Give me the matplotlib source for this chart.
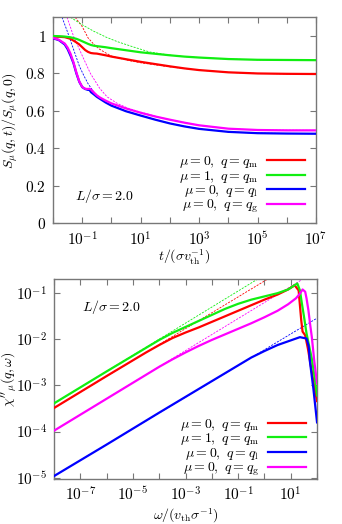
import numpy as np
import matplotlib
matplotlib.use("Agg")
import matplotlib.pyplot as plt
from matplotlib.ticker import FuncFormatter, FixedLocator, NullLocator, NullFormatter

plt.rcParams['font.family'] = 'serif'
plt.rcParams['font.serif'] = ['DejaVu Serif']
plt.rcParams['mathtext.fontset'] = 'cm'
plt.rcParams['font.size'] = 10

# ---- top panel: S_mu(q,t)/S_mu(q,0) vs t (t stored as log10) ----
logt_m = [-2, -1.8, -1.6, -1.4, -1.2, -1.1, -1.0, -0.9, -0.8, -0.7, -0.6, -0.5, -0.4, -0.2,
          0, 0.5, 1, 1.5, 2, 2.5, 3, 4, 5, 6, 7]
s_red = [0.997, 0.996, 0.994, 0.985, 0.966, 0.955, 0.94, 0.925, 0.915, 0.909, 0.907, 0.906,
         0.903, 0.897, 0.89, 0.876, 0.862, 0.85, 0.838, 0.827, 0.818, 0.806, 0.800, 0.798, 0.797]
s_green = [1.0, 0.999, 0.997, 0.993, 0.985, 0.979, 0.972, 0.965, 0.958, 0.952, 0.948, 0.946,
           0.944, 0.94, 0.935, 0.924, 0.913, 0.905, 0.897, 0.89, 0.885, 0.877, 0.873, 0.872, 0.871]

logt_l = [-2, -1.8, -1.6, -1.5, -1.4, -1.3, -1.2, -1.1, -1.0, -0.9, -0.8, -0.75, -0.7, -0.6,
          -0.5, -0.4, -0.2, 0, 0.5, 1, 1.5, 2, 2.5, 3, 4, 5, 6, 7]
s_blue = [0.988, 0.978, 0.955, 0.93, 0.895, 0.855, 0.80, 0.755, 0.727, 0.717, 0.712, 0.712,
          0.700, 0.688, 0.675, 0.665, 0.645, 0.628, 0.598, 0.575, 0.553, 0.533, 0.517, 0.504,
          0.488, 0.481, 0.479, 0.478]
s_mag = [0.99, 0.98, 0.96, 0.938, 0.905, 0.86, 0.805, 0.757, 0.728, 0.718, 0.717, 0.718,
         0.714, 0.698, 0.683, 0.672, 0.655, 0.64, 0.613, 0.59, 0.57, 0.553, 0.537, 0.523,
         0.505, 0.498, 0.496, 0.496]

# thin dashed fits (log10 t, value)
fit_red_t = [-1.24, -1.0, -0.8, -0.6, -0.4, -0.2, 0, 0.5, 1, 2, 3, 4, 5, 6, 7]
fit_red_s = [1.1, 1.05, 0.99, 0.955, 0.929, 0.91, 0.893, 0.872, 0.857, 0.835, 0.818, 0.806, 0.8, 0.798, 0.797]
fit_green_t = [-1.4, -1.0, -0.6, -0.38, -0.2, 0.2, 0.76, 1.3, 1.9, 2.5, 3, 4, 5, 7]
fit_green_s = [1.1, 1.06, 1.025, 1.009, 0.995, 0.97, 0.941, 0.915, 0.9, 0.89, 0.885, 0.877, 0.873, 0.871]
fit_blue_t = [-1.69, -1.5, -1.3, -1.1, -0.95, -0.8, -0.6, -0.4, -0.2, 0, 0.5, 1, 2, 3, 4, 5, 7]
fit_blue_s = [1.1, 1.02, 0.93, 0.84, 0.79, 0.745, 0.70, 0.668, 0.646, 0.628, 0.598, 0.575, 0.533,
              0.504, 0.488, 0.481, 0.478]
fit_mag_t = [-1.52, -1.3, -1.0, -0.72, -0.4, -0.15, 0.2, 0.6, 1.08, 1.5, 2, 3, 4, 5, 7]
fit_mag_s = [1.1, 1.0, 0.895, 0.8, 0.72, 0.675, 0.64, 0.612, 0.59, 0.572, 0.553, 0.523, 0.505, 0.498, 0.496]

# ---- bottom panel: chi''_mu(q,omega) (log10 omega, log10 chi) ----
logw_red = [-8, -6, -4.5, -4, -3.5, -3.0, -2.5, -2.0, -1.5, -1.0, -0.5, 0, 0.5, 0.9, 1.15, 1.3,
            1.4, 1.45, 1.55, 1.65, 1.8, 1.9, 2.0]
logc_red = [-3.49, -2.80, -2.29, -2.13, -1.98, -1.86, -1.75, -1.63, -1.51, -1.39, -1.27, -1.15,
            -1.04, -0.93, -0.84, -0.95, -1.6, -1.84, -1.92, -2.2, -2.7, -3.05, -3.34]
logw_green = [-8, -6, -4.5, -4, -3.5, -3.0, -2.5, -2.0, -1.5, -1.0, -0.5, 0, 0.5, 0.9, 1.25,
              1.35, 1.42, 1.5, 1.6, 1.7, 1.8, 1.9, 2.0]
logc_green = [-3.39, -2.70, -2.19, -2.02, -1.87, -1.74, -1.61, -1.48, -1.35, -1.24, -1.15, -1.08,
              -1.01, -0.93, -0.80, -0.95, -1.22, -1.5, -1.88, -2.15, -2.42, -2.8, -3.22]
logw_blue = [-8, -6, -4, -3, -2, -1.5, -1, -0.5, 0, 0.5, 1.0, 1.35, 1.6, 1.68, 1.73, 1.86, 2.0]
logc_blue = [-4.96, -4.28, -3.59, -3.25, -2.91, -2.74, -2.57, -2.40, -2.26, -2.13, -2.03, -1.96,
             -1.99, -2.15, -2.49, -3.07, -3.8]
logw_mag = [-8, -6, -4, -3.5, -3.0, -2.5, -2.0, -1.5, -1.0, -0.5, 0, 0.5, 0.9, 1.2, 1.35, 1.45,
            1.55, 1.6, 1.67, 1.73, 1.8, 1.9, 2.0]
logc_mag = [-3.98, -3.29, -2.60, -2.44, -2.29, -2.15, -2.02, -1.90, -1.78, -1.66, -1.53, -1.39,
            -1.25, -1.12, -1.02, -0.93, -0.98, -1.12, -1.37, -1.65, -1.95, -2.5, -2.96]

# power-law asymptotes (two end points each, log10)
asym_red = ([-8, 0.14], [-3.49, -0.70])
asym_green = ([-8, -0.24], [-3.39, -0.70])
asym_blue = ([-8, 2.0], [-4.96, -1.55])
asym_mag = ([-8, 1.48], [-3.98, -0.70])

# tick exponents
t_lab_exp, t_plain_exp = [-1, 1, 3, 5, 7], [-2, 0, 2, 4, 6]
w_lab_exp, w_plain_exp = [-7, -5, -3, -1, 1], [-8, -6, -4, -2, 0, 2]
chi_exp = [-5, -4, -3, -2, -1]

labels = [r'$\mu=0,\ q=q_{\rm m}$', r'$\mu=1,\ q=q_{\rm m}$',
          r'$\mu=0,\ q=q_{\rm l}$', r'$\mu=0,\ q=q_{\rm g}$']
colors = ['#ff0000', '#11ee11', '#0000ff', '#ff00ff']
frame = '#777777'


def p10(a):
    return np.power(10.0, np.asarray(a, dtype=float))


def style(ax):
    for s in ax.spines.values():
        s.set_color(frame)
        s.set_linewidth(1.0)
    ax.tick_params(which='both', direction='in', top=True, right=True, color=frame,
                   length=4, width=0.8, labelsize=11, pad=5)


def decade_label(v, pos):
    return r'$10^{%d}$' % int(round(np.log10(v)))


def decade_ticks(axis, lab, plain):
    axis.set_major_locator(FixedLocator(p10(lab)))
    axis.set_major_formatter(FuncFormatter(decade_label))
    if plain:
        axis.set_minor_locator(FixedLocator(p10(plain)))
    else:
        axis.set_minor_locator(NullLocator())
    axis.set_minor_formatter(NullFormatter())


fig = plt.figure(figsize=(3.42, 5.24), dpi=100)

# top panel
ax1 = fig.add_axes([0.155, 0.574, 0.769, 0.393])
dash = (0, (2.5, 1.5))
ax1.plot(p10(fit_red_t), fit_red_s, color=colors[0], lw=0.6, ls=dash, zorder=1)
ax1.plot(p10(fit_green_t), fit_green_s, color=colors[1], lw=0.6, ls=dash, zorder=1)
ax1.plot(p10(fit_blue_t), fit_blue_s, color=colors[2], lw=0.6, ls=dash, zorder=1)
ax1.plot(p10(fit_mag_t), fit_mag_s, color=colors[3], lw=0.6, ls=dash, zorder=1)
ax1.plot(p10(logt_m), s_red, color=colors[0], lw=1.6, label=labels[0], zorder=3)
ax1.plot(p10(logt_m), s_green, color=colors[1], lw=1.6, label=labels[1], zorder=3)
ax1.plot(p10(logt_l), s_blue, color=colors[2], lw=1.6, label=labels[2], zorder=3)
ax1.plot(p10(logt_l), s_mag, color=colors[3], lw=1.6, label=labels[3], zorder=3)
ax1.set_xscale('log')
ax1.set_xlim(1e-2, 1e7)
ax1.set_ylim(0, 1.1)
decade_ticks(ax1.xaxis, t_lab_exp, t_plain_exp)
ax1.yaxis.set_major_locator(FixedLocator([0, 0.2, 0.4, 0.6, 0.8, 1.0]))
ax1.yaxis.set_major_formatter(FuncFormatter(lambda v, p: r'$%g$' % round(v, 1)))
ax1.yaxis.set_minor_locator(NullLocator())
style(ax1)
ax1.set_xlabel(r'$t/(\sigma v_{\rm th}^{-1})$')
ax1.xaxis.set_label_coords(0.5, -0.118)
ax1.set_ylabel(r'$S_\mu(q,t)/S_\mu(q,0)$')
ax1.yaxis.set_label_coords(-0.125, 0.5)
ax1.text(0.084, 0.115, r'$L/\sigma=2.0$', transform=ax1.transAxes, fontsize=10)
ax1.legend(loc='lower right', bbox_to_anchor=(1.0, -0.015), frameon=False, markerfirst=False,
           handlelength=2.7, labelspacing=-0.1, handletextpad=0.7, borderaxespad=0.4, fontsize=10)

# bottom panel
ax2 = fig.add_axes([0.158, 0.086, 0.769, 0.382])
for (xa, ya), c in zip([asym_red, asym_green, asym_blue, asym_mag], colors):
    ax2.plot(p10(xa), p10(ya), color=c, lw=0.6, ls=dash, zorder=1)
ax2.plot(p10(logw_red), p10(logc_red), color=colors[0], lw=1.6, label=labels[0], zorder=3)
ax2.plot(p10(logw_green), p10(logc_green), color=colors[1], lw=1.6, label=labels[1], zorder=3)
ax2.plot(p10(logw_blue), p10(logc_blue), color=colors[2], lw=1.6, label=labels[2], zorder=3)
ax2.plot(p10(logw_mag), p10(logc_mag), color=colors[3], lw=1.6, label=labels[3], zorder=3)
ax2.set_xscale('log')
ax2.set_yscale('log')
ax2.set_xlim(1e-8, 1e2)
ax2.set_ylim(9.5e-6, 0.2)
decade_ticks(ax2.xaxis, w_lab_exp, w_plain_exp)
decade_ticks(ax2.yaxis, chi_exp, [])
style(ax2)
ax2.set_xlabel(r'$\omega/(v_{\rm th}\sigma^{-1})$')
ax2.xaxis.set_label_coords(0.5, -0.14)
ax2.set_ylabel(r"$\chi''_\mu(q,\omega)$")
ax2.yaxis.set_label_coords(-0.135, 0.5)
ax2.text(0.105, 0.84, r'$L/\sigma=2.0$', transform=ax2.transAxes, fontsize=10)
ax2.legend(loc='lower right', bbox_to_anchor=(1.0, -0.05), frameon=False, markerfirst=False,
           handlelength=2.7, labelspacing=-0.1, handletextpad=0.7, borderaxespad=0.4, fontsize=10)

fig.savefig('out.png', dpi=100)
